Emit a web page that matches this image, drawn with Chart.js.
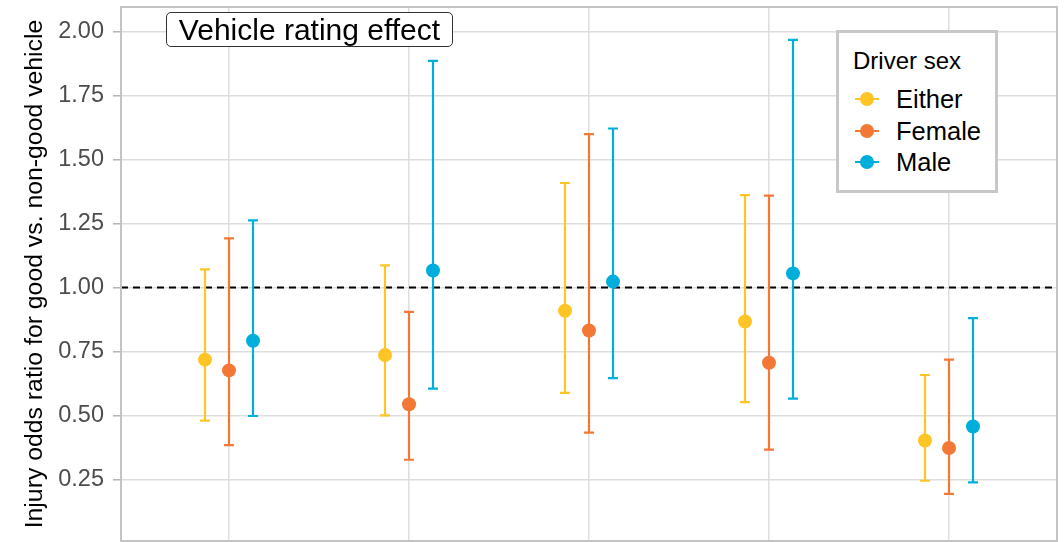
<!DOCTYPE html>
<html>
<head>
<meta charset="utf-8">
<script src="https://cdn.jsdelivr.net/npm/chart.js@4.4.1/dist/chart.umd.min.js"></script>
<style>
  body { margin: 0; background: #fff; font-family: "Liberation Sans", Arial, sans-serif; }
  #wrap { position: relative; width: 1064px; height: 542px; overflow: hidden; }
  #chart { display: block; }
  #note {
    position: absolute; left: 166px; top: 12px; width: 285px; height: 33px;
    border: 1.5px solid #333; border-radius: 5px; background: #fff;
    font-size: 30px; line-height: 34px; text-align: center; color: #000;
  }
  #legend {
    position: absolute; left: 836px; top: 30px; width: 156px; height: 157px;
    border: 3px solid #c8c8c8; background: #fff; color: #000;
  }
  #legend .title { position: absolute; left: 14px; top: 15px; font-size: 24px; line-height: 26px; }
  #legend .row { position: absolute; left: 16px; height: 26px; font-size: 25.5px; line-height: 26px; white-space: nowrap; }
  #legend .sym { position: absolute; left: 0; top: 12px; width: 24px; height: 2px; }
  #legend .dot { position: absolute; left: 5px; top: 6px; width: 14px; height: 14px; border-radius: 50%; }
  #legend .lab { position: absolute; left: 41px; top: 0; }
</style>
</head>
<body>
<div id="wrap">
  <!-- canvas is a bit taller than the frame: the x axis is cut off like in the source -->
  <canvas id="chart" width="1064" height="548"></canvas>
  <div id="note">Vehicle rating effect</div>
  <div id="legend"></div>
</div>
<script>
// x labels are cut off in the source picture
const categories = ['Rating 1', 'Rating 2', 'Rating 3', 'Rating 4', 'Rating 5'];
const seriesNames = ['Either', 'Female', 'Male'];
const seriesColors = ['#ffc425', '#f37735', '#00aedb'];

const eitherVal = [0.718, 0.736, 0.909, 0.867, 0.402];
const eitherLo  = [0.480, 0.500, 0.588, 0.552, 0.245];
const eitherHi  = [1.071, 1.086, 1.408, 1.361, 0.658];

const femaleVal = [0.676, 0.544, 0.832, 0.706, 0.373];
const femaleLo  = [0.384, 0.327, 0.433, 0.367, 0.194];
const femaleHi  = [1.192, 0.905, 1.599, 1.359, 0.718];

const maleVal = [0.792, 1.066, 1.023, 1.055, 0.457];
const maleLo  = [0.498, 0.605, 0.646, 0.566, 0.239];
const maleHi  = [1.262, 1.885, 1.621, 1.967, 0.880];

const yTicks = [0.25, 0.5, 0.75, 1.0, 1.25, 1.5, 1.75, 2.0];
const refLine = 1.0;

const dodge = 0.4;
const capWidth = 0.055;

const series = [
  [eitherVal, eitherLo, eitherHi],
  [femaleVal, femaleLo, femaleHi],
  [maleVal, maleLo, maleHi]
];

const datasets = series.map(([v, lo, hi], j) => ({
  label: seriesNames[j],
  data: categories.map((c, i) => ({
    x: i + (j - 1) * dodge / 3,
    y: v[i], lo: lo[i], hi: hi[i]
  })),
  backgroundColor: seriesColors[j],
  borderWidth: 0,
  pointRadius: 7,
  pointHoverRadius: 7
}));

const panel = {
  id: 'panel',
  beforeDatasetsDraw(chart) {
    const { ctx, chartArea: a, scales: { x, y } } = chart;
    ctx.save();
    // dashed reference line
    ctx.strokeStyle = '#000';
    ctx.lineWidth = 2;
    ctx.setLineDash([7, 5]);
    const yr = y.getPixelForValue(refLine);
    ctx.beginPath();
    ctx.moveTo(a.left, yr);
    ctx.lineTo(a.right, yr);
    ctx.stroke();
    ctx.setLineDash([]);
    // error bars
    chart.data.datasets.forEach(ds => {
      ctx.strokeStyle = ds.backgroundColor;
      ctx.lineWidth = 2.2;
      ds.data.forEach(p => {
        const px = x.getPixelForValue(p.x);
        const hw = x.getPixelForValue(p.x + capWidth / 2) - px;
        const lo = y.getPixelForValue(p.lo), hi = y.getPixelForValue(p.hi);
        ctx.beginPath();
        ctx.moveTo(px, lo); ctx.lineTo(px, hi);
        ctx.moveTo(px - hw, lo); ctx.lineTo(px + hw, lo);
        ctx.moveTo(px - hw, hi); ctx.lineTo(px + hw, hi);
        ctx.stroke();
      });
    });
    ctx.restore();
  },
  afterDraw(chart) {
    const { ctx, chartArea: a } = chart;
    ctx.save();
    ctx.strokeStyle = '#c4c4c4';
    ctx.lineWidth = 2;
    ctx.strokeRect(a.left, a.top, a.right - a.left, a.bottom - a.top);
    ctx.restore();
  }
};

new Chart(document.getElementById('chart'), {
  type: 'scatter',
  data: { datasets },
  options: {
    responsive: false,
    animation: false,
    devicePixelRatio: 1,
    layout: { padding: { top: 6, right: 7, bottom: 1, left: 0 } },
    plugins: { legend: { display: false }, tooltip: { enabled: false } },
    scales: {
      x: {
        type: 'linear',
        min: -0.6,
        max: 4.6,
        afterBuildTicks: s => { s.ticks = categories.map((c, i) => ({ value: i })); },
        afterFit: s => { s.height = 0; s.paddingLeft = 0; s.paddingRight = 0; },
        ticks: { display: false },
        grid: { color: '#dedede', lineWidth: 1.5, drawTicks: false },
        border: { display: false }
      },
      y: {
        min: 0.0097,
        max: 2.0955,
        afterBuildTicks: s => { s.ticks = yTicks.map(v => ({ value: v })); },
        afterFit: s => { s.width = 121; s.paddingTop = 0; s.paddingBottom = 0; },
        ticks: {
          callback: v => v.toFixed(2),
          font: { family: '"Liberation Sans", Arial, sans-serif', size: 23.5 },
          color: '#4d4d4d',
          padding: 9
        },
        grid: { color: '#dedede', lineWidth: 1.5, tickLength: 8, tickColor: '#b3b3b3' },
        border: { display: false },
        title: {
          display: true,
          text: 'Injury odds ratio for good vs. non-good vehicle',
          font: { family: '"Liberation Sans", Arial, sans-serif', size: 24.8 },
          color: '#000',
          padding: { top: 20, bottom: 0 }
        }
      }
    }
  },
  plugins: [panel]
});

// legend overlay
const legend = document.getElementById('legend');
legend.innerHTML = '<div class="title">Driver sex</div>' + seriesNames.map((n, j) =>
  `<div class="row" style="top:${53 + j * 31.5}px">` +
  `<div class="sym" style="background:${seriesColors[j]}"></div>` +
  `<div class="dot" style="background:${seriesColors[j]}"></div>` +
  `<div class="lab">${n}</div></div>`).join('');
</script>
</body>
</html>
